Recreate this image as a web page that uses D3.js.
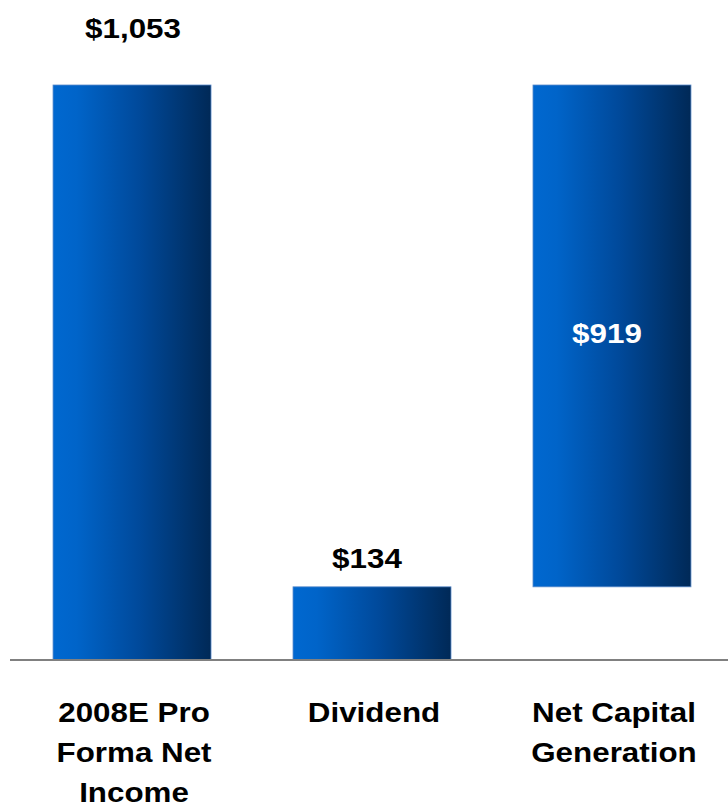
<!DOCTYPE html>
<html>
<head>
<meta charset="utf-8">
<script src="https://cdn.jsdelivr.net/npm/d3@7"></script>
<style>
  html, body { margin: 0; padding: 0; background: #ffffff; }
  svg { display: block; }
  text { font-family: "Liberation Sans", Arial, sans-serif; font-weight: bold; }
</style>
</head>
<body>
<svg id="chart" width="728" height="805"></svg>
<script>
// Waterfall: net income less dividend gives net capital generation
const categories = ["2008E Pro Forma Net Income", "Dividend", "Net Capital Generation"];
const categoryLines = [["2008E Pro", "Forma Net", "Income"], ["Dividend"], ["Net Capital", "Generation"]];
const barStart = [0, 0, 134];
const barEnd = [1053, 134, 1053];
const valueLabels = ["$1,053", "$134", "$919"];

const svg = d3.select("#chart");
const W = 728;
const baseY = 660;

const x = d3.scaleBand()
  .domain(categories)
  .range([12, 732])
  .paddingInner(0.3417)
  .paddingOuter(0.171);

const y = d3.scaleLinear()
  .domain([0, 1053])
  .range([baseY, 85]);

// horizontal bar gradient, bright blue to navy
const defs = svg.append("defs");
const grad = defs.append("linearGradient")
  .attr("id", "barGrad")
  .attr("x1", "0%").attr("x2", "100%")
  .attr("y1", "0%").attr("y2", "0%");
grad.append("stop").attr("offset", "0%").attr("stop-color", "#0068d0");
grad.append("stop").attr("offset", "15%").attr("stop-color", "#0064c9");
grad.append("stop").attr("offset", "55%").attr("stop-color", "#00499a");
grad.append("stop").attr("offset", "100%").attr("stop-color", "#002957");

const data = categories.map((c, i) => ({
  cat: c, lo: barStart[i], hi: barEnd[i], label: valueLabels[i], lines: categoryLines[i]
}));

svg.selectAll("rect.bar")
  .data(data)
  .join("rect")
  .attr("class", "bar")
  .attr("x", d => x(d.cat))
  .attr("width", x.bandwidth())
  .attr("y", d => y(d.hi))
  .attr("height", d => y(d.lo) - y(d.hi))
  .attr("fill", "url(#barGrad)")
  .attr("stroke", "#5a8bcb")
  .attr("stroke-width", 0.8);

// baseline
svg.append("line")
  .attr("x1", 10).attr("x2", W)
  .attr("y1", baseY).attr("y2", baseY)
  .attr("stroke", "#808080")
  .attr("stroke-width", 2);

const sx = 1.12;
function stretched(sel, cx, cy) {
  sel.attr("transform", `translate(${cx},${cy}) scale(${sx},1)`);
}

// value labels: above the first two bars, inside the last one
const labelGap = [47, 19];
data.forEach((d, i) => {
  const cx = x(d.cat) + x.bandwidth() / 2 + (i === 0 ? 1 : -5);
  const inside = i === 2;
  const cy = inside ? (y(d.hi) + y(d.lo)) / 2 + 7 : y(d.hi) - labelGap[i];
  svg.append("text")
    .attr("text-anchor", "middle")
    .attr("font-size", 28)
    .attr("fill", inside ? "#ffffff" : "#000000")
    .text(d.label)
    .call(stretched, cx, cy);
});

// category labels below the baseline
data.forEach(d => {
  const cx = x(d.cat) + x.bandwidth() / 2 + 2;
  d.lines.forEach((ln, j) => {
    svg.append("text")
      .attr("text-anchor", "middle")
      .attr("font-size", 28)
      .attr("fill", "#000000")
      .text(ln)
      .call(stretched, cx, 722 + j * 40);
  });
});
</script>
</body>
</html>
